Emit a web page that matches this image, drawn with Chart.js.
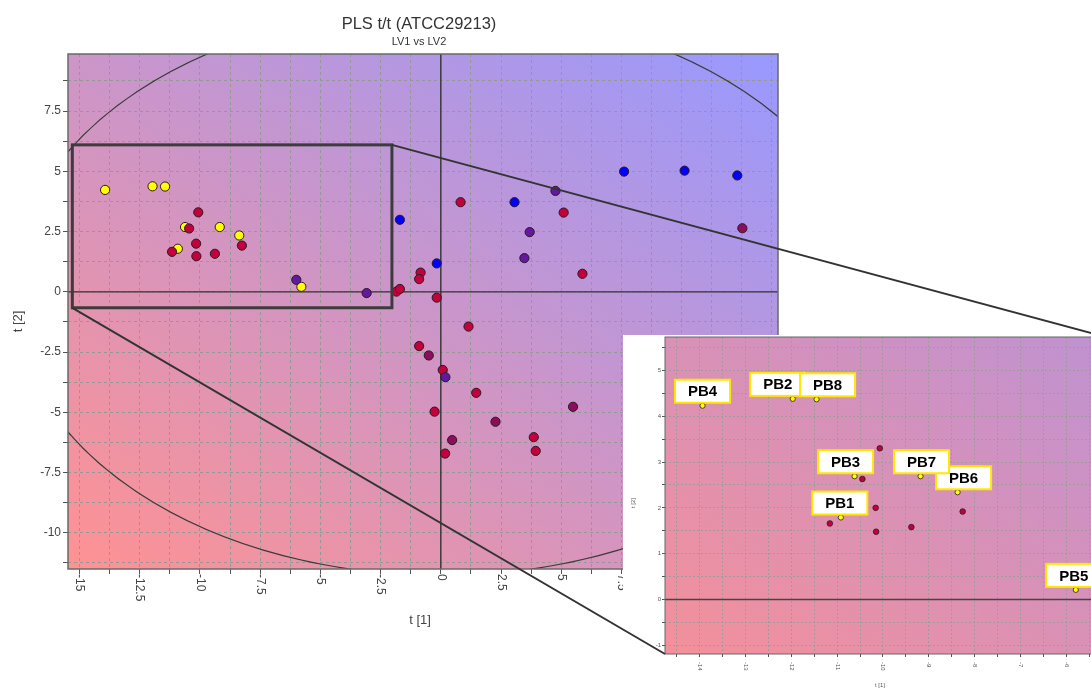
<!DOCTYPE html>
<html>
<head>
<meta charset="utf-8">
<script src="https://cdn.jsdelivr.net/npm/chart.js@4.4.1/dist/chart.umd.min.js"></script>
<style>
html, body { margin: 0; padding: 0; overflow: hidden; background: #fff; }
body { width: 1091px; height: 689px; position: relative; }
#mainChart { position: absolute; left: 0; top: 0; }
#insetChart { position: absolute; left: 623px; top: 331px; }
#links { position: absolute; left: 0; top: 0; pointer-events: none; }
</style>
</head>
<body>
<canvas id="mainChart" width="1091" height="689"></canvas>
<canvas id="insetChart" width="500" height="358"></canvas>
<canvas id="links" width="1091" height="689"></canvas>
<script>
// ---- data (t[1], t[2] scores) ----
const pbNames = ['PB1', 'PB2', 'PB3', 'PB4', 'PB5', 'PB6', 'PB7', 'PB8'];
const pbT1 = [-10.92, -11.97, -10.62, -13.94, -5.79, -8.37, -9.18, -11.45];
const pbT2 = [1.79, 4.38, 2.69, 4.23, 0.21, 2.34, 2.69, 4.37];

const redT1 = [-10.07, -10.45, -10.16, -11.16, -10.15, -9.38, -8.26, -1.84, -1.70, -0.84, -0.90, -0.17,
               0.82, 5.10, 5.88, 1.15, -0.90, 0.08, 1.47, -0.26, 3.86, 3.94, 0.18];
const redT2 = [3.30, 2.63, 2.00, 1.66, 1.48, 1.58, 1.92, 0.01, 0.12, 0.80, 0.53, -0.24,
               3.72, 3.29, 0.75, -1.44, -2.25, -3.24, -4.19, -4.97, -6.03, -6.60, -6.71];

const magentaT1 = [12.52, 5.49, 2.27, 0.47, -0.50];
const magentaT2 = [2.64, -4.77, -5.39, -6.15, -2.64];

const purpleT1 = [4.76, 3.69, 3.47, 0.19, -6.00, -3.08];
const purpleT2 = [4.19, 2.48, 1.40, -3.54, 0.50, -0.05];

const blueT1 = [7.61, 10.12, 12.31, 3.06, -1.70, -0.17];
const blueT2 = [4.99, 5.03, 4.83, 3.72, 2.99, 1.18];

// Hotelling T2 ellipse half axes and the zoomed region (data units)
const ellipseA = 17.8, ellipseB = 11.77;
const zoomBox = { x0: -15.3, x1: -2.03, y0: -0.66, y1: 6.1 };

const FONT = '"Liberation Sans", Arial, sans-serif';

function pts(xs, ys) { return xs.map((x, i) => ({ x: x, y: ys[i] })); }

function datasets(r, bw, pbR) {
  return [
    { data: pts(blueT1, blueT2), backgroundColor: '#0000ff' },
    { data: pts(purpleT1, purpleT2), backgroundColor: '#6418a0' },
    { data: pts(magentaT1, magentaT2), backgroundColor: '#8e0c5c' },
    { data: pts(redT1, redT2), backgroundColor: '#c4003c' },
    { data: pts(pbT1, pbT2), backgroundColor: '#ffff00', pointRadius: pbR }
  ].map(d => Object.assign({ pointRadius: r, borderColor: '#2a1a22', borderWidth: bw }, d));
}

function isMajor(v, step) { return Math.abs(v / step - Math.round(v / step)) < 1e-6; }

// gradient whose mid line runs along the top-left / bottom-right diagonal
function gradientFill(ctx, a, c0, c1) {
  const W = a.width, H = a.height, s = W * W + H * H;
  const g = ctx.createLinearGradient(a.left, a.bottom,
    a.left + 2 * W * H * H / s, a.bottom - 2 * W * W * H / s);
  g.addColorStop(0, c0);
  g.addColorStop(1, c1);
  ctx.fillStyle = g;
  ctx.fillRect(a.left, a.top, W, H);
}

const mainDecor = {
  id: 'mainDecor',
  beforeDraw(chart) {
    const { ctx, chartArea: a } = chart;
    ctx.save();
    gradientFill(ctx, a, '#ff9292', '#9899ff');
    ctx.restore();
  },
  beforeDatasetsDraw(chart) {
    const { ctx, chartArea: a, scales: { x, y } } = chart;
    ctx.save();
    ctx.beginPath();
    ctx.rect(a.left, a.top, a.width, a.height);
    ctx.clip();
    const cx = x.getPixelForValue(0), cy = y.getPixelForValue(0);
    ctx.strokeStyle = '#3a3a3a';
    ctx.lineWidth = 1.2;
    ctx.beginPath();
    ctx.ellipse(cx, cy, x.getPixelForValue(ellipseA) - cx, cy - y.getPixelForValue(ellipseB), 0, 0, Math.PI * 2);
    ctx.stroke();
    ctx.lineWidth = 1.4;
    ctx.strokeStyle = '#333';
    ctx.beginPath();
    ctx.moveTo(a.left, cy); ctx.lineTo(a.right, cy);
    ctx.moveTo(cx, a.top); ctx.lineTo(cx, a.bottom);
    ctx.stroke();
    ctx.restore();
  },
  afterDraw(chart) {
    const { ctx, chartArea: a, scales: { x, y } } = chart;
    ctx.save();
    ctx.strokeStyle = '#6a6a6a';
    ctx.lineWidth = 1.5;
    ctx.strokeRect(a.left, a.top, a.width, a.height);

    // zoom rectangle
    ctx.strokeStyle = '#3c3c3c';
    ctx.lineWidth = 3;
    const rx0 = x.getPixelForValue(zoomBox.x0), rx1 = x.getPixelForValue(zoomBox.x1);
    const ry0 = y.getPixelForValue(zoomBox.y0), ry1 = y.getPixelForValue(zoomBox.y1);
    ctx.strokeRect(rx0, ry1, rx1 - rx0, ry0 - ry1);

    // x tick labels, rotated clockwise
    ctx.fillStyle = '#444';
    ctx.font = '12px ' + FONT;
    x.ticks.forEach(t => {
      if (!isMajor(t.value, 2.5)) return;
      ctx.save();
      ctx.translate(x.getPixelForValue(t.value), a.bottom + 5);
      ctx.rotate(Math.PI / 2);
      ctx.textAlign = 'left';
      ctx.textBaseline = 'middle';
      ctx.fillText(String(t.value), 0, 0);
      ctx.restore();
    });

    // axis titles
    ctx.font = '13px ' + FONT;
    ctx.textAlign = 'center';
    ctx.textBaseline = 'middle';
    ctx.fillText('t [1]', (a.left + a.right) / 2 - 3, a.bottom + 51);
    ctx.save();
    ctx.translate(18, (a.top + a.bottom) / 2 + 10);
    ctx.rotate(-Math.PI / 2);
    ctx.fillText('t [2]', 0, 0);
    ctx.restore();

    // title
    ctx.fillStyle = '#333';
    ctx.font = '16.5px ' + FONT;
    ctx.fillText('PLS t/t (ATCC29213)', 419, 24);
    ctx.font = '11px ' + FONT;
    ctx.fillText('LV1 vs LV2', 419, 42);
    ctx.restore();
  }
};

const labelShift = [-1, -15, -9, 0, -2, 6, 1, 11];

const insetDecor = {
  id: 'insetDecor',
  beforeDraw(chart) {
    const { ctx, chartArea: a } = chart;
    ctx.save();
    ctx.fillStyle = '#fff';
    ctx.fillRect(0, 4, chart.width, chart.height - 4);
    gradientFill(ctx, a, '#f4909a', '#bf92d2');
    ctx.restore();
  },
  beforeDatasetsDraw(chart) {
    const { ctx, chartArea: a, scales: { y } } = chart;
    ctx.save();
    ctx.strokeStyle = '#444';
    ctx.lineWidth = 1.6;
    const cy = y.getPixelForValue(0);
    ctx.beginPath();
    ctx.moveTo(a.left, cy); ctx.lineTo(a.right, cy);
    ctx.stroke();
    ctx.restore();
  },
  afterDatasetsDraw(chart) {
    const { ctx, scales: { x, y } } = chart;
    ctx.save();
    pbNames.forEach((name, i) => {
      const px = x.getPixelForValue(pbT1[i]);
      const py = y.getPixelForValue(pbT2[i]);
      const w = 55, h = 23;
      const bx = px + labelShift[i] - w / 2, by = py - 3 - h;
      ctx.fillStyle = '#fff';
      ctx.fillRect(bx, by, w, h);
      ctx.strokeStyle = '#ffe800';
      ctx.lineWidth = 2;
      ctx.strokeRect(bx, by, w, h);
      ctx.fillStyle = '#000';
      ctx.font = 'bold 15px ' + FONT;
      ctx.textAlign = 'center';
      ctx.textBaseline = 'middle';
      ctx.fillText(name, bx + w / 2, by + h / 2 + 1);
    });
    ctx.restore();
  },
  afterDraw(chart) {
    const { ctx, chartArea: a, scales: { x } } = chart;
    ctx.save();
    ctx.strokeStyle = '#666';
    ctx.lineWidth = 1;
    ctx.strokeRect(a.left, a.top, a.width, a.height);
    ctx.fillStyle = '#555';
    ctx.font = '6px ' + FONT;
    x.ticks.forEach(t => {
      if (!isMajor(t.value, 1)) return;
      ctx.save();
      ctx.translate(x.getPixelForValue(t.value), a.bottom + 8);
      ctx.rotate(Math.PI / 2);
      ctx.textAlign = 'left';
      ctx.textBaseline = 'middle';
      ctx.fillText(String(t.value), 0, 0);
      ctx.restore();
    });
    ctx.textAlign = 'center';
    ctx.textBaseline = 'middle';
    ctx.fillText('t [1]', 257, a.bottom + 31);
    ctx.save();
    ctx.translate(10, 172);
    ctx.rotate(-Math.PI / 2);
    ctx.fillText('t [2]', 0, 0);
    ctx.restore();
    ctx.restore();
  }
};

const mainChart = new Chart(document.getElementById('mainChart'), {
  type: 'scatter',
  data: { datasets: datasets(4.6, 1, 4.6) },
  options: {
    responsive: false,
    animation: false,
    layout: { padding: { left: 0, top: 54, right: 313, bottom: 120 } },
    plugins: { legend: { display: false }, tooltip: { enabled: false } },
    scales: {
      x: {
        type: 'linear', min: -15.48, max: 14.0,
        afterFit: s => { s.height = 0; },
        ticks: { display: false, stepSize: 1.25, includeBounds: false },
        grid: { color: '#979797', tickColor: '#555', tickLength: 5 },
        border: { display: false, dash: [3, 3] }
      },
      y: {
        type: 'linear', min: -11.5, max: 9.87,
        afterFit: s => { s.width = 68; },
        ticks: {
          stepSize: 1.25, includeBounds: false, autoSkip: false, padding: 2,
          color: '#444', font: { family: FONT, size: 12 },
          callback: v => (isMajor(v, 2.5) ? String(v) : '')
        },
        grid: { color: '#979797', tickColor: '#555', tickLength: 5 },
        border: { display: false, dash: [3, 3] }
      }
    }
  },
  plugins: [mainDecor]
});

const insetChart = new Chart(document.getElementById('insetChart'), {
  type: 'scatter',
  data: { datasets: datasets(2.8, 0.8, 2.6) },
  options: {
    responsive: false,
    animation: false,
    layout: { padding: { left: 0, top: 6, right: 17, bottom: 35 } },
    plugins: { legend: { display: false }, tooltip: { enabled: false } },
    scales: {
      x: {
        type: 'linear', min: -14.76, max: -5.13,
        afterFit: s => { s.height = 0; },
        ticks: { display: false, stepSize: 0.5, includeBounds: false },
        grid: { color: '#a39a9e', tickColor: '#555', tickLength: 3 },
        border: { display: false, dash: [2, 2] }
      },
      y: {
        type: 'linear', min: -1.19, max: 5.73,
        afterFit: s => { s.width = 42; },
        ticks: {
          stepSize: 0.5, includeBounds: false, autoSkip: false, padding: 1,
          color: '#555', font: { family: FONT, size: 6 },
          callback: v => (isMajor(v, 1) ? String(v) : '')
        },
        grid: { color: '#a39a9e', tickColor: '#555', tickLength: 3 },
        border: { display: false, dash: [2, 2] }
      }
    }
  },
  plugins: [insetDecor]
});

// lines linking the zoom rectangle to the inset
(function drawLinks() {
  const ctx = document.getElementById('links').getContext('2d');
  const mx = mainChart.scales.x, my = mainChart.scales.y;
  const ia = insetChart.chartArea;
  const r = insetChart.canvas.getBoundingClientRect();
  ctx.strokeStyle = '#333';
  ctx.lineWidth = 2;
  ctx.beginPath();
  ctx.moveTo(mx.getPixelForValue(zoomBox.x1), my.getPixelForValue(zoomBox.y1));
  ctx.lineTo(r.left + ia.right, r.top + ia.top);
  ctx.moveTo(mx.getPixelForValue(zoomBox.x0), my.getPixelForValue(zoomBox.y0));
  ctx.lineTo(r.left + ia.left, r.top + ia.bottom);
  ctx.stroke();
})();
</script>
</body>
</html>
